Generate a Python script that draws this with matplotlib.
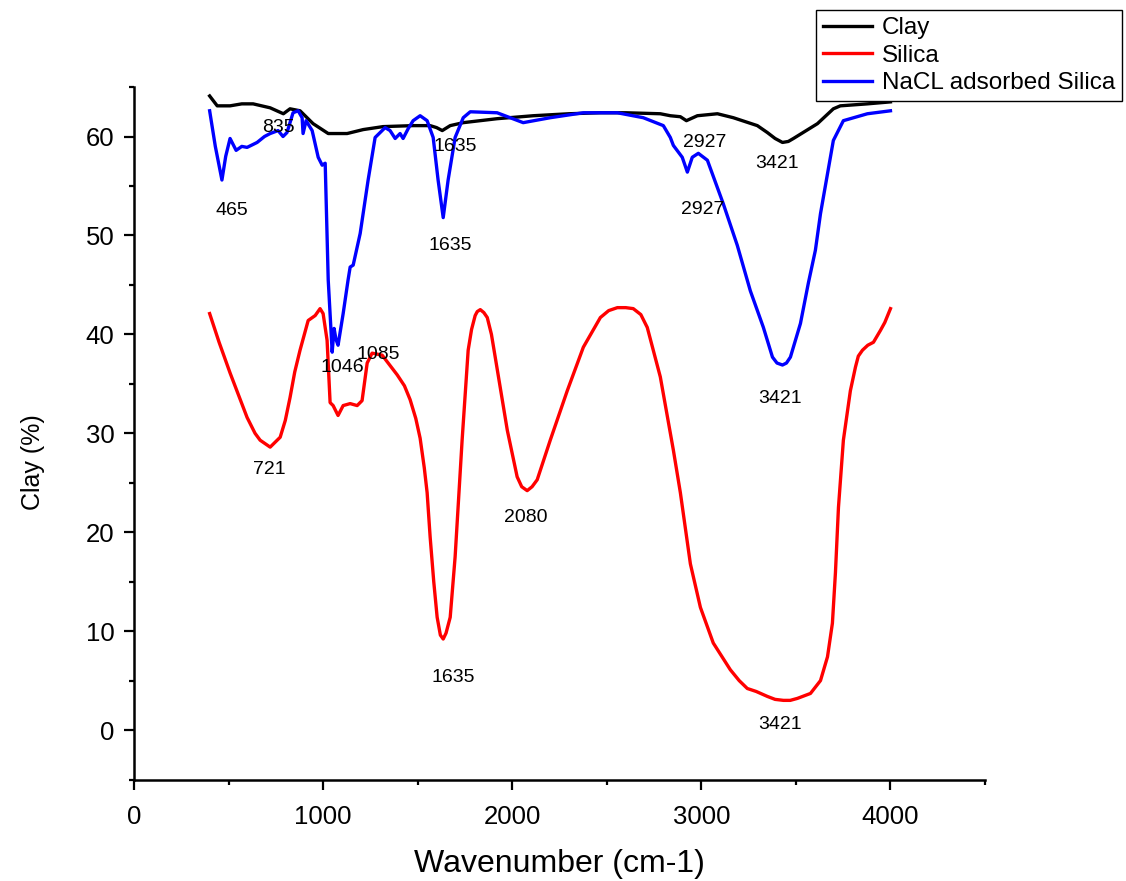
import matplotlib.pyplot as plt
from matplotlib.ticker import MultipleLocator

plt.rcParams['font.family'] = ['Liberation Sans', 'DejaVu Sans']

# Clay
clay_x = [400, 440, 508, 570, 630, 720, 790, 825, 878, 947, 1027, 1127, 1212, 1317, 1476, 1566,
          1600, 1630, 1672, 1741, 1920, 2111, 2300, 2466, 2600, 2783, 2836, 2889, 2921, 2979,
          3085, 3169, 3296, 3349, 3390, 3429, 3460, 3487, 3614, 3698, 3735, 3878, 4000]
clay_y = [64.1, 63.1, 63.1, 63.3, 63.3, 62.9, 62.3, 62.8, 62.6, 61.3, 60.3, 60.3, 60.7, 61.0, 61.1, 61.1,
          60.9, 60.6, 61.1, 61.4, 61.8, 62.1, 62.3, 62.4, 62.4, 62.3, 62.1, 62.0, 61.6, 62.1,
          62.3, 61.9, 61.1, 60.4, 59.8, 59.4, 59.5, 59.8, 61.3, 62.8, 63.1, 63.3, 63.5]

# Silica
silica_x = [400, 450, 508, 560, 598, 640, 667, 720, 773, 800, 825, 850, 878, 921, 958, 984, 1000,
            1021, 1037, 1053, 1079, 1106, 1143, 1180, 1206, 1233, 1259, 1312, 1392, 1430, 1460,
            1490, 1513, 1535, 1550, 1566, 1585, 1603, 1620, 1635, 1650, 1672, 1698, 1735, 1767,
            1785, 1804, 1815, 1831, 1850, 1868, 1890, 1910, 1974, 2026, 2050, 2079, 2105, 2132,
            2201, 2291, 2376, 2466, 2510, 2556, 2600, 2640, 2680, 2714, 2783, 2852, 2889, 2942,
            2995, 3063, 3153, 3200, 3243, 3290, 3349, 3390, 3434, 3470, 3508, 3577, 3630, 3667,
            3693, 3709, 3725, 3751, 3788, 3815, 3830, 3852, 3880, 3910, 3947, 3970, 4000]
silica_y = [42.1, 39.2, 36.1, 33.5, 31.6, 30.0, 29.3, 28.6, 29.6, 31.3, 33.6, 36.2, 38.4, 41.4, 41.9,
            42.6, 42.1, 39.4, 33.1, 32.8, 31.8, 32.8, 33.0, 32.8, 33.3, 37.1, 38.1, 37.9, 35.9,
            34.8, 33.4, 31.5, 29.5, 26.5, 24.0, 19.5, 15.0, 11.4, 9.6, 9.2, 9.8, 11.4, 17.5, 29.3,
            38.4, 40.5, 41.9, 42.3, 42.5, 42.2, 41.7, 40.0, 37.7, 30.3, 25.6, 24.6, 24.2, 24.6,
            25.3, 29.3, 34.3, 38.7, 41.7, 42.4, 42.7, 42.7, 42.6, 42.0, 40.7, 35.7, 28.3, 24.0,
            16.8, 12.4, 8.8, 6.1, 5.0, 4.2, 3.9, 3.4, 3.1, 3.0, 3.0, 3.2, 3.7, 5.0, 7.4, 10.8,
            15.9, 22.5, 29.3, 34.3, 36.7, 37.8, 38.4, 38.9, 39.2, 40.4, 41.2, 42.6]

# NaCL adsorbed Silica
nacl_x = [400, 430, 465, 485, 508, 540, 570, 598, 630, 651, 690, 720, 762, 788, 809, 841, 868, 889,
          894, 910, 942, 974, 995, 1011, 1027, 1048, 1058, 1068, 1079, 1106, 1132, 1143, 1159,
          1196, 1238, 1275, 1328, 1354, 1381, 1407, 1423, 1450, 1476, 1513, 1550, 1582, 1608,
          1635, 1661, 1698, 1741, 1778, 1920, 2058, 2201, 2376, 2556, 2693, 2799, 2836, 2852,
          2899, 2926, 2952, 2984, 3032, 3116, 3190, 3259, 3328, 3376, 3400, 3429, 3450, 3471,
          3524, 3566, 3603, 3630, 3698, 3751, 3878, 4000]
nacl_y = [62.6, 59.0, 55.6, 58.0, 59.8, 58.6, 59.0, 58.9, 59.2, 59.4, 60.0, 60.3, 60.6, 60.0, 60.4,
          62.4, 62.6, 61.9, 60.3, 61.6, 60.6, 57.9, 57.1, 57.3, 45.5, 38.2, 40.6, 39.5, 38.9, 42.1,
          45.5, 46.8, 47.0, 50.2, 55.6, 59.9, 60.9, 60.6, 59.8, 60.3, 59.8, 60.8, 61.6, 62.1, 61.6,
          59.9, 55.6, 51.8, 55.6, 59.9, 61.9, 62.5, 62.4, 61.4, 61.9, 62.4, 62.4, 61.9, 61.1, 59.9,
          59.1, 57.9, 56.4, 57.9, 58.3, 57.6, 53.2, 49.0, 44.4, 40.7, 37.7, 37.1, 36.9, 37.1, 37.7,
          41.1, 45.2, 48.5, 52.2, 59.6, 61.6, 62.3, 62.6]

# peak labels
peak_labels = ["465", "835", "1635", "1635", "2927", "3421", "2927", "3421",
               "1046", "1085", "721", "1635", "2080", "3421"]
peak_pos = [(519, 52.5), (762, 60.9), (1698, 59.0), (1672, 49.0), (3016, 59.4), (3402, 57.3),
            (3005, 52.6), (3418, 33.5), (1101, 36.6), (1291, 38.0), (714, 26.3), (1688, 5.3),
            (2074, 21.5), (3418, 0.6)]

fig = plt.figure(figsize=(11.26, 8.81), dpi=100)
ax = fig.add_axes([0.119, 0.1152, 0.7558, 0.786])

ax.plot(clay_x, clay_y, color='black', lw=2.4, label='Clay')
ax.plot(silica_x, silica_y, color='red', lw=2.4, label='Silica')
ax.plot(nacl_x, nacl_y, color='blue', lw=2.4, label='NaCL adsorbed Silica')

for txt, (px, py) in zip(peak_labels, peak_pos):
    ax.text(px, py, txt, ha='center', va='center', fontsize=14)

ax.set_xlim(0, 4500)
ax.set_ylim(-5, 65)
ax.xaxis.set_major_locator(MultipleLocator(1000))
ax.xaxis.set_minor_locator(MultipleLocator(500))
ax.yaxis.set_major_locator(MultipleLocator(10))
ax.yaxis.set_minor_locator(MultipleLocator(5))
ax.tick_params(which='major', direction='out', length=7, width=1.6, labelsize=18.5)
ax.tick_params(axis='x', which='major', pad=11)
ax.tick_params(axis='y', which='major', pad=7)
ax.tick_params(which='minor', direction='out', length=3.5, width=1.6)

for side in ['top', 'right']:
    ax.spines[side].set_visible(False)
for side in ['left', 'bottom']:
    ax.spines[side].set_linewidth(1.8)

ax.set_xlabel("Wavenumber (cm-1)", fontsize=23)
ax.xaxis.set_label_coords(0.5, -0.100)
ax.set_ylabel("Clay (%)", fontsize=18)
ax.yaxis.set_label_coords(-0.105, 0.4585)

leg = ax.legend(loc='upper left', bbox_to_anchor=(816 / 1126, 1 - 10 / 881),
                bbox_transform=fig.transFigure, fontsize=17.5, frameon=True, fancybox=False,
                borderpad=0.3, labelspacing=0.22, handlelength=2.0, handletextpad=0.4,
                borderaxespad=0)
leg.get_frame().set_edgecolor('black')
leg.get_frame().set_linewidth(1.0)
leg.get_frame().set_alpha(1)

plt.savefig("out.png", dpi=100)
